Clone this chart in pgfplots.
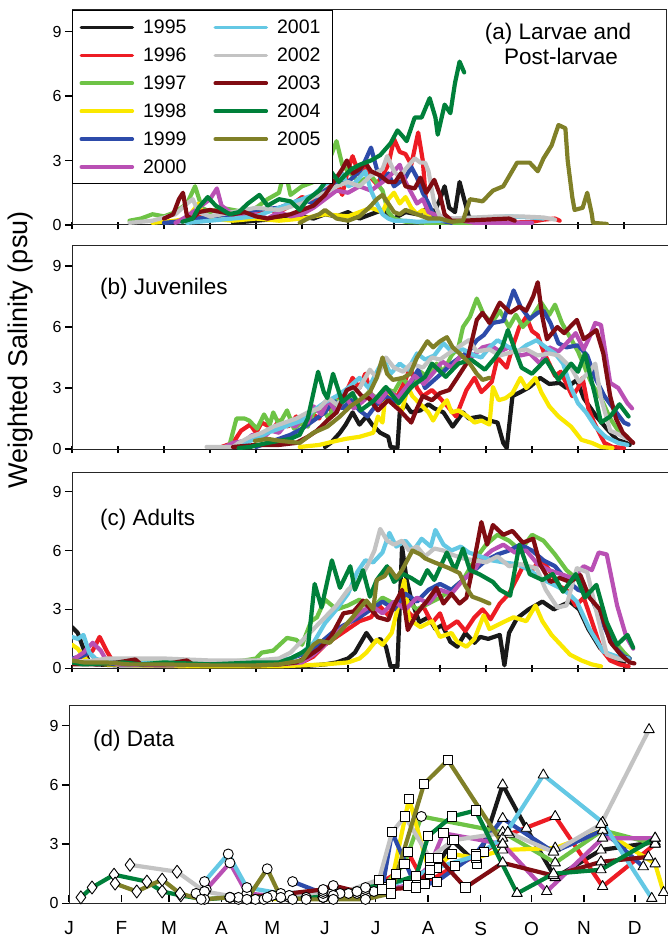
\documentclass[border=0pt]{standalone}
\usepackage{fontspec}
\setmainfont{Liberation Sans}
\usepackage{pgfplots}
\usepackage{pgfplotstable}
\pgfplotsset{compat=1.18}
\definecolor{c95}{RGB}{25,25,25}
\definecolor{c96}{RGB}{237,28,36}
\definecolor{c97}{RGB}{110,195,70}
\definecolor{c98}{RGB}{250,232,0}
\definecolor{c99}{RGB}{45,75,170}
\definecolor{c00}{RGB}{185,80,180}
\definecolor{c01}{RGB}{100,200,228}
\definecolor{c02}{RGB}{195,195,195}
\definecolor{c03}{RGB}{128,12,18}
\definecolor{c04}{RGB}{0,128,58}
\definecolor{c05}{RGB}{128,128,40}
\tikzset{yr/.style={line width=4.2pt, line join=round, line cap=round, mark=none}}
\pgfplotsset{
  every axis plot/.append style={line width=4.2pt, line join=round, line cap=round},
  common/.style={scale only axis, ymin=0, ymax=10, ytick={0,3,6,9},
    tick align=outside, major tick length=7pt,
    xtick style={yshift=3pt}, every tick/.style={black, line width=1.5pt},
    axis line style={black!85, line width=1pt},
    tick label style={font=\fontsize{16}{16}\selectfont},
    /pgf/number format/assume math mode=true,
    ytick pos=left, xtick pos=bottom},
  weeks/.style={common, xmin=0, xtick={0,4,...,48}, xticklabels={}},
  mk/.style={only marks, scatter, scatter src=explicit symbolic,
    scatter/classes={
      a={mark=diamond*, mark size=6.5pt, fill=white, draw=black},
      b={mark=*, mark size=5pt, fill=white, draw=black},
      c={mark=square*, mark size=4.6pt, fill=white, draw=black},
      d={mark=triangle*, mark size=6pt, fill=white, draw=black}},
    mark options={line width=0.9pt}},
}
% ---------- panel d data ----------
\pgfplotstableread{
x y c
100 0.2 b
125 0.3 b
150 0.3 b
170 0.5 b
190 0.7 c
205 1.0 c
217 1.8 c
226 3.2 c
241 2.0 c
256 6.0 d
270 3.8 d
287 1.3 d
314 2.7 d
346 3.1 d
}\dA
\pgfplotstableread{
x y c
95 0.3 b
120 0.4 b
150 0.3 b
175 0.6 b
193 1.5 c
200 2.6 c
210 1.0 c
228 1.9 c
245 2.6 c
260 3.5 d
287 4.4 d
315 0.85 d
346 3.0 d
}\dB
\pgfplotstableread{
x y c
110 0.2 b
140 0.3 b
165 0.5 b
185 0.8 c
198 2.0 c
208 4.4 b
256 3.6 d
287 2.05 d
315 3.7 d
346 3.0 d
}\dC
\pgfplotstableread{
x y c
115 0.2 b
150 0.3 b
175 0.4 b
190 0.9 c
200.7 5.3 c
213 1.5 c
226 2.5 c
240 2.3 c
256 2.7 d
287 2.8 d
315 3.7 d
346 2.0 d
351 0.55 d
}\dD
\pgfplotstableread{
x y c
132 1.1 b
150 0.5 b
170 0.6 b
185 0.8 c
190.7 3.6 c
205 0.8 c
217 1.1 c
240 2.5 c
256 4.3 d
286 2.6 d
315 3.7 d
339 1.85 d
}\dE
\pgfplotstableread{
x y c
75 0.5 b
81 0.7 b
95 2.05 b
105 0.5 b
130 0.3 b
155 0.5 b
180 0.6 b
200 0.9 c
213 1.9 c
221 3.55 c
256 3.0 d
282 0.6 d
315 3.3 d
346 3.3 d
}\dF
\pgfplotstableread{
x y c
80 1.1 b
94 2.5 b
105 0.8 b
125 0.5 b
150 0.6 b
175 0.7 b
190 0.9 c
213 1.7 c
240 2.4 c
256 3.3 d
280 6.5 d
315 4.1 d
344 0.25 d
}\dG
\pgfplotstableread{
x y c
36 1.95 a
63.8 1.6 a
80 0.6 b
100 0.3 b
130 0.4 b
160 0.5 b
183 1.2 c
190.7 3.6 c
198.3 4.4 c
213 2.3 c
227 3.2 c
259 3.6 d
286 2.6 d
314 4.0 d
342.4 8.8 d
}\dH
\pgfplotstableread{
x y c
95 0.3 b
120 0.4 b
150 0.7 b
156 0.9 b
170 0.6 b
185 0.7 c
205 0.8 c
218 2.3 c
234 0.8 c
256 2.05 d
286 1.4 d
314 2.1 d
342 2.35 d
}\dI
\pgfplotstableread{
x y c
7 0.3 a
13.6 0.8 a
26.6 1.45 a
46 1.1 a
55 0.6 a
66 0.4 a
80 0.2 b
95 0.3 b
117 0.3 b
132 0.2 b
156 0.4 b
175 0.8 b
190 1.0 c
205 1.4 c
212 3.4 c
226 4.4 c
240 4.7 c
264.5 0.5 d
286 1.5 d
314 1.7 d
346 3.3 d
}\dJ
\pgfplotstableread{
x y c
27.2 1.0 a
40 0.6 a
55 1.2 a
65.5 0.5 a
78 0.2 b
95 0.3 b
105 0.2 b
117 1.75 b
125 0.3 b
140 0.2 b
156 0.2 b
175 0.2 b
190 0.5 c
209.6 6.05 c
223.7 7.25 c
256 3.0 d
}\dK
\begin{document}
\begin{tikzpicture}
\useasboundingbox (0pt,0pt) rectangle (667pt,-941pt);
% ================= Panel (a) =================
\begin{axis}[weeks, at={(72pt,-225pt)}, anchor=south west, width=594pt, height=215pt, xmax=51.65,
  legend columns=2, legend cell align=left,
  legend image code/.code={\draw[#1, line width=3.6pt, line cap=round] (0pt,0pt) -- (51pt,0pt);},
  legend style={at={(0,1)}, anchor=north west, draw=black, line width=1pt, fill=white,
    font=\fontsize{19.5}{19.5}\selectfont, inner xsep=7pt, inner ysep=3pt, row sep=0pt,
    nodes={inner xsep=5pt, inner ysep=6.4pt},
    /tikz/every odd column/.append style={column sep=4pt},
    /tikz/every even column/.append style={column sep=22pt}}]
\addlegendimage{yr,c95}\addlegendentry{1995}
\addlegendimage{yr,c01}\addlegendentry{2001}
\addlegendimage{yr,c96}\addlegendentry{1996}
\addlegendimage{yr,c02}\addlegendentry{2002}
\addlegendimage{yr,c97}\addlegendentry{1997}
\addlegendimage{yr,c03}\addlegendentry{2003}
\addlegendimage{yr,c98}\addlegendentry{1998}
\addlegendimage{yr,c04}\addlegendentry{2004}
\addlegendimage{yr,c99}\addlegendentry{1999}
\addlegendimage{yr,c05}\addlegendentry{2005}
\addlegendimage{yr,c00}\addlegendentry{2000}
\addplot[yr,c95,forget plot] coordinates {(14,0.1)(16,0.2)(18,0.3)(20,0.4)(21,0.3)(22,0.5)(23,0.4)(24,0.6)(25,0.3)(26,0.5)(27,0.7)(27.5,0.4)(28,0.3)(29,0.6)(30,0.5)(31,0.8)(31.5,0.6)(32,1.2)(32.4,1.8)(32.8,0.8)(33.3,0.6)(33.7,2.0)(34.1,1.2)(34.5,0.4)(35,0.2)(36,0.1)};
\addplot[yr,c96,forget plot] coordinates {(10,0.2)(11,0.4)(12,0.3)(13,0.5)(14,0.4)(15,0.6)(16,0.5)(17,0.7)(18,0.6)(19,0.9)(20,1.3)(21,1.1)(22,1.6)(23,2.0)(23.5,1.4)(24,2.6)(24.4,3.2)(25,2.3)(25.5,2.7)(26,2.2)(26.5,1.9)(27,2.3)(27.5,2.8)(28,4.0)(28.5,3.4)(29,3.3)(29.5,2.8)(30.1,4.3)(30.5,3.0)(30.8,1.0)(31,0.5)(32,0.3)(33,0.2)(34,0.1)(36,0.05)(38,0.1)(40,0.15)(41,0.25)(42,0.3)(42.4,0.2)};
\addplot[yr,c97,forget plot] coordinates {(5,0.2)(6,0.3)(7,0.5)(8,0.4)(9,0.6)(10,1.0)(10.7,1.8)(11.3,0.8)(12,0.6)(13,0.8)(14,0.7)(15,0.6)(16,0.8)(17,1.2)(18,1.5)(18.5,2.6)(19,1.4)(20,1.8)(21,2.0)(22,2.5)(23,3.9)(23.5,2.8)(24,2.5)(25,2.0)(26,2.3)(27,1.6)(27.5,0.6)(28,0.3)(29,0.15)(31,0.1)(33,0.1)(36,0.1)};
\addplot[yr,c98,forget plot] coordinates {(7,0.1)(9,0.2)(10,0.3)(11,1.0)(11.5,0.4)(12,0.3)(14,0.2)(16,0.3)(18,0.2)(20,0.3)(22,0.5)(24,0.4)(25,0.6)(26,0.8)(27,0.6)(27.5,1.2)(28,1.5)(28.5,1.0)(29,1.3)(29.5,0.8)(30,0.5)(30.5,0.7)(31,0.4)(32,0.2)(33,0.1)};
\addplot[yr,c99,forget plot] coordinates {(8,0.1)(10,0.2)(12,0.4)(14,0.5)(16,0.7)(18,0.8)(20,1.2)(21,1.0)(22,1.6)(23,1.9)(24,2.0)(25,2.5)(25.5,3.0)(26,3.6)(26.5,2.6)(27,2.0)(27.5,2.4)(28,1.8)(28.5,2.0)(29,2.2)(29.5,2.7)(30,2.2)(30.5,1.5)(31,1.0)(31.5,0.4)(32,0.2)(33,0.1)};
\addplot[yr,c00,forget plot] coordinates {(9,0.1)(10,0.4)(11,0.8)(12,1.2)(12.6,1.7)(13,0.9)(14,0.5)(15,0.4)(16,0.5)(17,0.3)(18,0.6)(19,0.4)(20,0.5)(21,0.8)(22,1.2)(23,1.6)(24,1.5)(25,1.8)(26,1.6)(27,2.0)(27.5,2.2)(28,2.5)(28.5,2.8)(29,2.0)(29.5,1.5)(30,1.0)(30.5,1.2)(31,0.6)(32,0.4)(33,0.3)(34,0.2)(35,0.1)(38,0.1)(40,0.1)};
\addplot[yr,c01,forget plot] coordinates {(10,0.1)(12,0.2)(14,0.3)(16,0.4)(17,0.6)(18,0.8)(19,1.0)(20,1.2)(21,1.4)(22,1.9)(23,2.1)(23.5,2.4)(24,1.8)(24.5,1.9)(25,2.2)(25.5,2.5)(26,1.6)(26.5,1.0)(27,0.5)(27.5,0.3)(28,0.2)(29,0.2)(30,0.15)(32,0.2)(34,0.3)(36,0.35)(38,0.4)(40,0.35)(41,0.3)};
\addplot[yr,c02,forget plot] coordinates {(5,0.1)(7,0.2)(9,0.5)(10,1.0)(10.5,1.2)(11,0.6)(12,0.4)(14,0.6)(16,0.8)(18,0.7)(20,1.0)(21,1.3)(22,1.5)(23,1.8)(24,2.0)(25,1.8)(26,2.3)(27,2.6)(27.4,3.2)(28,2.5)(28.5,2.2)(29,2.6)(29.8,3.1)(30.3,2.9)(30.7,2.9)(31,2.5)(31.5,1.0)(32,0.4)(33,0.3)(35,0.35)(37,0.4)(39,0.4)(41,0.35)(42,0.25)};
\addplot[yr,c03,forget plot] coordinates {(8,0.3)(8.8,0.5)(9.3,1.2)(9.65,1.5)(10,0.4)(10.5,0.3)(11,0.6)(12,0.7)(13,0.6)(14,0.5)(15,0.6)(16,0.4)(17,0.3)(18,0.4)(19,0.5)(20,0.7)(21,0.9)(22,1.4)(23,2.2)(23.5,2.6)(23.9,3.0)(24.4,2.4)(25,2.6)(25.5,2.9)(26,2.5)(26.8,2.3)(27.5,2.0)(28.1,2.0)(28.6,2.4)(29,1.8)(29.8,1.7)(30.3,2.2)(30.8,1.5)(31.5,2.1)(32,1.4)(32.4,0.5)(33,0.2)(34,0.2)(36,0.25)(38,0.3)(38.5,0.2)};
\addplot[yr,c04,forget plot] coordinates {(9.6,0.15)(10.5,0.3)(11,0.8)(11.8,1.3)(12.5,0.9)(13.7,0.5)(14.5,0.6)(15.3,1.0)(16.3,1.4)(17,0.9)(18,1.2)(19,1.1)(19.8,0.7)(20.5,1.2)(21.5,1.6)(22,2.0)(22.5,2.5)(23.2,2.0)(23.7,2.3)(24.3,2.6)(25,2.8)(26,3.0)(26.8,3.25)(27.7,3.8)(28.3,4.4)(28.8,4.1)(29.1,3.9)(29.8,5.0)(30.4,5.0)(31.1,5.9)(31.6,5.0)(31.8,4.2)(32.4,5.6)(32.9,5.2)(33.3,6.6)(33.7,7.6)(34.1,7.1)};
\addplot[yr,c05,forget plot] coordinates {(19.8,0.1)(20.5,0.3)(21.5,0.5)(22,0.7)(22.5,0.5)(23,0.3)(24,0.2)(25,0.4)(26,0.9)(26.5,1.2)(27,1.4)(27.5,1.0)(28,0.6)(28.5,0.5)(29,0.7)(30,0.5)(31,0.3)(32,0.3)(33,0.15)(34,0.2)(34.6,1.2)(35.7,1.1)(36.6,1.6)(37.5,1.8)(38.7,2.9)(39.8,2.9)(40.5,2.5)(41,3.1)(41.7,3.7)(42.3,4.65)(42.9,4.5)(43.1,3.0)(43.5,1.3)(43.7,0.7)(44.4,0.8)(44.8,1.5)(45.2,0.5)(45.3,0.1)(46.5,0.05)};
\end{axis}
% ================= Panel (b) =================
\begin{axis}[weeks, at={(72pt,-449pt)}, anchor=south west, width=598pt, height=203.3pt, xmax=52]
\addplot[yr,c95] coordinates {(22,0.1)(22.5,0.3)(23.3,0.8)(23.8,1.2)(24.4,1.8)(25,1.2)(25.6,1.6)(26.1,1.2)(26.8,0.8)(27.5,0.6)(27.7,0.1)(28.3,0.05)(28.5,1.8)(29,2.2)(29.5,1.8)(30.3,1.9)(31,2.2)(31.5,2.0)(32.3,1.8)(33.1,1.1)(34,1.8)(34.5,1.5)(35.5,1.6)(36.3,1.4)(37,1.3)(37.5,0.3)(37.8,0.05)(38.3,2.6)(39,2.8)(39.8,3.05)(40.7,3.5)(41.5,3.2)(42.4,3.25)(43,3.0)(43.9,3.4)(44.5,2.5)(45.6,1.6)(46.5,1.0)(47.4,0.45)(48.2,0.3)(48.5,0.2)};
\addplot[yr,c96] coordinates {(13,0.1)(14,0.3)(14.7,0.9)(15.5,1.2)(16,0.8)(16.5,1.3)(17.5,1.0)(18,1.4)(18.8,1.1)(19.5,1.6)(20,1.2)(20.7,1.8)(21.5,1.5)(22,2.3)(22.5,1.9)(23.3,2.6)(24,3.0)(24.4,3.5)(25,3.0)(25.5,3.7)(26.1,2.5)(26.7,2.2)(27.3,2.8)(28.3,2.6)(29,3.4)(29.4,4.0)(30,3.0)(30.5,2.6)(31.3,2.9)(32,2.5)(32.5,2.2)(33.4,1.6)(34.3,2.9)(35,3.5)(35.6,2.8)(36.5,3.3)(37,4.5)(37.8,4.0)(38.3,5.0)(38.9,6.0)(39.5,6.5)(40,5.8)(40.5,5.6)(41,4.8)(42,3.6)(42.5,3.8)(43,3.2)(43.5,2.6)(44,3.0)(44.4,3.5)(44.9,2.0)(45.4,1.3)(46.3,0.3)(47,0.1)(48,0.05)};
\addplot[yr,c97] coordinates {(13.7,0.2)(14.3,1.5)(15,1.5)(15.4,1.4)(16.1,1.0)(16.7,1.7)(17.2,1.2)(17.5,1.8)(18,1.2)(18.7,1.9)(19.3,1.0)(20,1.3)(20.5,1.1)(21,1.8)(21.7,2.1)(22.3,1.5)(23,2.4)(23.7,2.0)(24.4,2.7)(25,2.2)(25.8,2.8)(26.5,2.5)(27.2,3.0)(28,2.8)(28.7,3.5)(29.5,3.0)(30.3,3.8)(31,3.5)(31.7,4.2)(32.3,3.8)(33,4.6)(33.6,5.0)(34,6.0)(34.6,6.5)(35.2,7.4)(35.8,6.6)(36.5,6.2)(37.2,6.8)(38,6.0)(38.6,6.6)(39.2,6.0)(40,6.5)(40.8,7.2)(41.5,6.6)(42,7.1)(42.6,6.2)(43.3,5.5)(44,4.8)(44.6,4.0)(45.2,3.2)(46,2.5)(46.8,1.5)(47.5,0.9)(48.3,0.6)};
\addplot[yr,c98] coordinates {(19.8,0.1)(21.5,0.2)(22.6,0.35)(23.8,0.5)(25,0.6)(26.2,0.8)(26.6,1.6)(27,1.3)(27.3,2.9)(28,2.2)(28.7,1.9)(29.2,3.05)(29.6,2.6)(30.3,2.2)(31,1.8)(31.4,1.4)(32,2.0)(32.6,2.4)(33,1.8)(33.6,1.9)(34.4,1.6)(35,1.3)(35.6,1.4)(36.3,1.2)(36.6,3.05)(37.1,2.4)(37.7,2.5)(38.3,2.75)(39,3.5)(39.5,3.0)(40.3,3.5)(40.8,2.8)(41.5,2.1)(42.3,1.6)(43.4,1.1)(44.3,0.45)(45.2,0.3)(46,0.1)(47,0.05)};
\addplot[yr,c99] coordinates {(16,0.1)(17,0.3)(18,0.5)(19,0.7)(20,1.0)(21,1.4)(22,1.8)(22.7,2.4)(23.5,2.0)(24.3,2.4)(25,1.9)(25.7,1.6)(26.5,2.2)(27.3,2.6)(28,2.3)(29,3.0)(29.5,3.3)(30.1,3.9)(30.7,3.0)(31.5,3.4)(32.3,3.8)(33,4.2)(33.7,4.5)(34.5,4.8)(35.2,5.35)(35.8,5.6)(36.6,6.2)(37.5,6.3)(38.4,7.8)(39,7.0)(39.8,6.4)(40.5,6.7)(41,6.8)(41.6,6.2)(42.3,5.2)(43,5.0)(44,5.1)(44.8,4.6)(45.5,3.5)(46.3,2.6)(47.2,1.9)(48,1.3)(48.4,1.2)};
\addplot[yr,c00] coordinates {(13.3,0.1)(14,0.3)(15,0.4)(15.7,0.7)(16.5,0.5)(17.3,0.9)(18,0.8)(18.7,1.3)(19.4,1.1)(20,1.5)(20.5,1.3)(21,2.1)(21.7,1.7)(22.3,2.4)(23,1.8)(23.7,2.6)(24.5,2.0)(25.2,2.3)(26,2.7)(26.7,2.3)(27.5,2.9)(28.3,2.5)(29,3.0)(29.8,3.6)(30.6,3.2)(31.5,3.8)(32.2,4.3)(33,4.0)(33.8,4.6)(34.5,4.4)(35.7,5.0)(36.4,5.1)(37.2,4.8)(38,5.0)(39,4.6)(39.8,4.7)(40.7,4.2)(41.5,5.0)(42.3,4.8)(43,5.2)(43.8,5.7)(44.5,4.9)(45,5.5)(45.5,6.2)(46,6.1)(46.8,3.25)(47.5,3.0)(48.3,2.25)(48.7,2.0)};
\addplot[yr,c01] coordinates {(14,0.1)(15,0.3)(16,0.5)(17,0.8)(18,1.0)(19,1.2)(20,1.4)(21,1.9)(22,2.3)(23,2.6)(24,3.0)(25,3.5)(25.8,3.0)(26.5,3.8)(27.1,4.4)(27.7,3.7)(28.5,4.2)(29.2,3.9)(30,4.7)(30.7,4.4)(31.5,4.6)(32.3,5.2)(33,4.8)(34,4.9)(35,4.6)(35.6,4.5)(36.3,5.0)(37,5.35)(38,5.0)(38.8,4.8)(39.5,5.1)(40.4,5.35)(41.2,5.0)(42,4.7)(42.7,4.2)(43.4,3.0)(44,2.25)(44.7,1.8)(45.5,1.1)(46.4,0.6)(47.5,0.3)(48.3,0.2)};
\addplot[yr,c02] coordinates {(11.7,0.1)(14,0.1)(14.5,0.3)(15.5,0.6)(16.5,0.8)(17.5,1.1)(18.5,1.3)(19.5,1.5)(20.5,1.8)(21.5,2.0)(22.3,2.5)(23,2.2)(24,2.6)(25,3.0)(25.9,3.9)(26.5,3.5)(27.3,4.5)(28,4.0)(28.8,3.8)(29.5,4.2)(30.5,4.0)(31.3,4.5)(32,4.4)(33,4.8)(34.5,5.35)(35.2,4.8)(36.3,4.9)(37.2,4.6)(38.5,4.8)(39.5,4.9)(40.5,4.6)(41.5,4.7)(42.3,4.6)(43.4,4.0)(44.1,3.3)(45,3.8)(45.5,4.2)(46,2.5)(46.8,0.9)(47.6,0.7)(48.3,0.5)};
\addplot[yr,c03] coordinates {(14,0.1)(16,0.2)(18,0.2)(19.5,0.3)(20.5,0.6)(21.3,0.9)(22.2,1.4)(23,1.8)(23.9,2.9)(24.5,3.05)(25.2,2.6)(25.8,2.5)(26.6,1.9)(27.5,2.4)(28.5,1.9)(29.5,1.3)(30,2.0)(30.5,2.6)(31.3,2.4)(32,2.75)(32.8,2.9)(33.5,3.5)(34.3,4.2)(35.2,6.35)(35.7,6.7)(36.3,6.2)(37.2,7.2)(38.1,6.7)(38.9,7.0)(39.5,6.8)(40.1,7.5)(40.5,8.2)(40.9,6.5)(41.3,5.4)(42.2,6.0)(42.8,5.7)(43.3,6.0)(43.9,6.35)(44.5,5.4)(45,5.6)(45.6,5.85)(46.2,4.7)(46.8,2.6)(47.3,1.5)(47.9,0.8)(48.8,0.3)};
\addplot[yr,c04] coordinates {(14.5,0.05)(15.5,0.1)(16.2,0.2)(17,0.3)(18,0.4)(19,0.5)(19.8,0.7)(20.5,1.5)(21.4,3.8)(21.9,2.8)(22.2,2.5)(22.7,3.7)(23.5,2.3)(24.4,2.75)(25.1,1.9)(26.3,2.4)(27.3,3.05)(28.4,2.25)(29.5,3.05)(30.7,3.55)(31.3,4.2)(32.5,3.55)(33.6,4.2)(34.7,4.4)(35.9,3.9)(36.8,4.5)(37.4,5.0)(37.9,5.85)(38.5,4.9)(39.1,4.0)(40,3.7)(41.2,4.4)(42.3,3.4)(43.4,4.2)(44,3.8)(44.6,4.7)(45.5,2.6)(46,1.3)(46.8,1.6)(47.6,2.2)(48.4,1.6)};
\addplot[yr,c05] coordinates {(15.9,0.4)(17,0.5)(18.1,0.4)(19.8,0.3)(21,0.8)(22.2,1.1)(23.3,1.6)(24.2,2.1)(25,2.4)(25.9,2.8)(26.5,3.5)(27,4.5)(27.4,3.7)(27.9,3.4)(28.8,3.5)(29.4,3.7)(30,4.5)(30.9,5.3)(31.4,5.0)(32,5.3)(32.6,5.5)(33.1,5.0)(33.7,4.7)(34.6,4.2)(35.2,3.7)(35.7,3.4)(36.3,3.5)};
\end{axis}
% ================= Panel (c) =================
\begin{axis}[weeks, at={(72pt,-668.3pt)}, anchor=south west, width=598pt, height=196.3pt, xmax=52]
\addplot[yr,c95] coordinates {(0,2.1)(0.5,1.8)(1,1.0)(1.5,0.3)(2,0.2)(4,0.15)(8,0.15)(12,0.1)(16,0.1)(20,0.1)(22,0.2)(23,0.3)(24,0.5)(24.6,0.8)(25.6,1.8)(26.2,1.3)(26.8,1.5)(27.3,1.1)(27.7,0.1)(28.3,0.1)(28.7,6.2)(29.1,4.5)(29.5,3.5)(30.2,2.35)(31,2.6)(31.6,2.0)(32.2,2.2)(32.9,1.35)(33.5,1.1)(34.2,1.8)(35,1.3)(35.5,1.6)(36.2,1.5)(37.2,1.7)(37.6,0.15)(38,1.8)(38.7,2.55)(39.7,3.0)(40.9,3.4)(41.9,3.0)(43.3,3.4)(44.1,3.0)(44.9,2.0)(45.9,1.05)(46.9,0.5)(48,0.3)};
\addplot[yr,c96] coordinates {(0,0.5)(1,0.6)(1.8,0.9)(2.4,1.6)(3,0.9)(3.5,0.4)(4.5,0.3)(6,0.2)(10,0.2)(14,0.2)(18,0.2)(20,0.3)(21,0.6)(22,1.2)(23,1.6)(24,2.0)(25,2.4)(26,2.6)(26.7,3.2)(27.5,2.7)(28.3,3.5)(29,3.0)(29.7,2.6)(30.5,3.2)(31.3,2.3)(32,2.8)(32.5,2.0)(33.5,2.4)(34.2,1.9)(35,2.6)(35.7,3.0)(36.4,2.5)(37.2,3.3)(38,3.8)(38.7,4.6)(39.3,5.3)(40,5.0)(40.8,5.6)(41.5,5.0)(42.3,4.2)(43,4.0)(43.8,3.2)(44.5,3.6)(45.2,2.4)(46,1.0)(46.8,0.4)(47.6,0.2)(48.4,0.1)};
\addplot[yr,c97] coordinates {(0,0.3)(2,0.3)(4,0.4)(6,0.3)(10,0.3)(12,0.35)(14,0.35)(15,0.4)(16,0.5)(16.5,0.8)(17.5,0.9)(18.7,1.55)(19.5,1.45)(20,1.2)(20.8,2.4)(21.3,2.6)(22,3.5)(23,3.0)(24,3.2)(25,3.5)(26,3.0)(27,3.6)(28,3.3)(29,3.5)(30,3.0)(31,3.3)(32,3.6)(33,4.0)(34,4.5)(35,5.5)(36,6.3)(37,6.8)(38,6.5)(39,6.0)(40,6.8)(41,6.5)(42,5.8)(43,5.0)(44,4.5)(45,3.8)(46,2.5)(47,1.5)(48,0.8)(48.5,0.5)};
\addplot[yr,c98] coordinates {(0,1.2)(0.5,1.0)(1,0.6)(1.5,0.3)(3,0.2)(6,0.15)(10,0.1)(14,0.1)(18,0.1)(20,0.15)(22,0.2)(24,0.3)(25,0.5)(25.6,0.8)(26.5,1.45)(27,1.2)(27.8,1.8)(28.9,4.5)(29.3,2.5)(30.3,2.1)(31.3,2.4)(32,1.6)(33,1.8)(33.5,1.35)(34.3,1.1)(35,1.5)(35.8,2.7)(36.3,2.0)(37.5,2.35)(38.4,2.6)(39.5,2.4)(40.3,3.2)(40.9,2.4)(41.7,1.7)(42.5,1.2)(43.3,0.7)(44.3,0.4)(45.2,0.2)(46,0.1)};
\addplot[yr,c99] coordinates {(0,0.5)(0.8,0.6)(1.5,0.8)(2,0.5)(2.5,0.3)(4,0.2)(8,0.15)(12,0.2)(16,0.2)(18,0.3)(19,0.5)(20,0.7)(21,1.0)(22,1.5)(23,2.0)(24,2.3)(25,2.6)(26,3.0)(27,3.4)(28,3.0)(29,3.8)(30,3.4)(31,4.0)(32,4.3)(33,4.0)(34,4.5)(35,5.0)(36,5.5)(37,5.8)(38,6.0)(39,6.3)(40,6.0)(41,5.5)(42,5.2)(43,4.5)(44,4.0)(45,3.8)(46,2.5)(47,1.2)(48,0.6)(48.5,0.5)};
\addplot[yr,c00] coordinates {(0,0.4)(1,0.8)(1.8,1.3)(2.5,0.9)(3,0.4)(4,0.2)(8,0.15)(12,0.2)(16,0.2)(18,0.2)(20,0.3)(21,0.7)(22,1.2)(23,1.8)(24,2.3)(25,2.8)(26,3.2)(27,2.8)(28,3.4)(29,3.0)(30,3.6)(31,3.3)(32,4.0)(33,3.8)(34,4.5)(35,5.0)(35.5,5.5)(36.5,6.0)(37.5,6.3)(38.5,5.9)(39.5,6.0)(40.5,5.3)(41.5,5.0)(42.5,4.8)(43.5,4.6)(44.5,5.2)(45.2,5.0)(45.8,5.9)(46.5,5.8)(47.4,3.2)(48.2,1.6)(48.8,1.0)};
\addplot[yr,c01] coordinates {(0,1.6)(0.5,1.5)(1,1.7)(1.5,0.8)(2,0.5)(2.5,0.4)(4,0.3)(8,0.25)(12,0.2)(16,0.25)(17,0.3)(19,0.5)(20,0.8)(21,1.3)(22,2.3)(23,3.0)(24,3.8)(24.8,4.9)(25.5,5.5)(26.2,5.4)(27,5.9)(27.6,6.9)(28.2,6.2)(29,6.5)(29.7,6.0)(30.4,6.6)(31.2,6.2)(31.6,7.05)(32.3,6.3)(33,6.0)(33.8,6.2)(34.5,5.9)(35.5,5.7)(36.5,5.5)(37.5,5.4)(38.7,5.3)(39.8,5.0)(40.7,4.6)(42.4,4.1)(43.2,3.8)(43.9,3.4)(45,2.0)(46.2,0.85)(47.4,0.6)(48.4,0.5)};
\addplot[yr,c02] coordinates {(0,0.3)(2,0.4)(3,0.5)(5,0.5)(8,0.5)(10,0.45)(12,0.4)(14,0.4)(16,0.4)(18,0.5)(19,0.8)(20,1.4)(21,2.0)(22,2.6)(23,3.2)(24,4.0)(25,4.5)(25.8,5.35)(26.3,6.0)(26.8,7.1)(27.4,6.5)(28,6.3)(28.7,6.5)(29.3,6.0)(30,6.2)(30.7,5.7)(31.5,6.1)(32.3,6.0)(33,5.8)(34,5.6)(35,5.5)(36,5.4)(37,5.7)(38,5.2)(39,5.3)(40.4,5.1)(41.2,4.0)(42.2,3.1)(43,3.2)(43.9,5.1)(44.8,4.9)(45.6,2.9)(46.5,0.7)(47.4,0.5)(48.3,0.4)};
\addplot[yr,c03] coordinates {(0,0.2)(2,0.2)(4,0.3)(5.5,0.45)(6,0.2)(8,0.2)(10,0.4)(10.5,0.2)(12,0.2)(14,0.2)(16,0.15)(18,0.2)(19.5,0.3)(20.5,0.6)(21.5,1.0)(22.5,1.6)(23.6,2.8)(24.5,2.9)(25.3,3.45)(26,3.0)(26.6,2.6)(27.5,2.45)(28,3.2)(28.7,4.0)(29.2,1.95)(30,2.8)(30.9,3.45)(31.7,4.1)(32.3,3.3)(33,3.8)(33.7,3.3)(34.3,3.6)(34.8,5.0)(35.2,6.2)(35.6,7.45)(36.1,6.3)(36.6,7.3)(37.5,6.8)(38.3,7.0)(39.2,6.4)(40.1,6.6)(40.7,5.3)(41.6,4.4)(42.4,4.6)(43.3,4.4)(44.2,4.75)(45,3.6)(45.9,3.0)(46.8,1.35)(47.7,0.7)(48.5,0.3)(48.9,0.25)};
\addplot[yr,c04] coordinates {(0,0.3)(1,0.2)(3,0.25)(4.5,0.3)(6,0.2)(8,0.3)(12,0.2)(16,0.3)(18,0.3)(19,0.5)(20,0.8)(20.5,1.0)(21.1,4.3)(21.7,3.1)(22.6,5.5)(23.3,4.1)(24.2,5.2)(24.6,4.0)(25.3,5.0)(25.9,3.65)(26.5,4.5)(27.4,5.2)(28,4.4)(28.8,4.8)(29.5,4.6)(30.3,4.3)(30.9,5.0)(31.5,4.5)(32.6,5.9)(33.3,5.0)(34,6.1)(34.6,5.0)(35.4,4.8)(36.6,4.4)(37.2,4.0)(38.1,3.7)(38.9,6.3)(39.8,4.8)(40.9,4.5)(41.8,4.8)(42.7,3.9)(43.8,4.8)(44.6,3.6)(45.6,4.25)(46.5,2.35)(47.4,1.2)(48.3,1.7)(48.8,1.05)};
\addplot[yr,c05] coordinates {(0,0.4)(1,0.3)(3,0.3)(5,0.2)(8,0.2)(12,0.15)(16,0.15)(18,0.2)(19,0.3)(20,0.4)(21,1.2)(21.5,1.4)(22.4,1.3)(23.2,1.8)(24.4,2.6)(25.6,3.45)(26.2,3.0)(26.5,4.5)(27.2,4.7)(27.6,5.1)(28.2,4.6)(28.7,5.0)(29.6,6.0)(30.3,5.8)(30.7,5.6)(31.5,5.4)(32.8,5.1)(33.7,4.85)(34.2,4.2)(34.8,3.65)(35.5,3.5)(36.3,3.3)};
\end{axis}
% ================= Panel (d) =================
\begin{axis}[common, at={(69pt,-903.3pt)}, anchor=south west, width=596.3pt, height=197.4pt,
  xmin=0, xmax=352, xtick={0,31,59,90,120,151,181,212,243,273,304,334},
  xticklabels={J,F,M,A,M,J,J,A,S,O,N,D}, xtick style={yshift=5pt},
  xticklabel style={font=\fontsize{19}{19}\selectfont, yshift=-8pt}]
\addplot[yr,c95] table[x=x,y=y] {\dA};
\addplot[yr,c96] table[x=x,y=y] {\dB};
\addplot[yr,c97] table[x=x,y=y] {\dC};
\addplot[yr,c98] table[x=x,y=y] {\dD};
\addplot[yr,c99] table[x=x,y=y] {\dE};
\addplot[yr,c00] table[x=x,y=y] {\dF};
\addplot[yr,c01] table[x=x,y=y] {\dG};
\addplot[yr,c02] table[x=x,y=y] {\dH};
\addplot[yr,c03] table[x=x,y=y] {\dI};
\addplot[yr,c04] table[x=x,y=y] {\dJ};
\addplot[yr,c05] table[x=x,y=y] {\dK};
\addplot[mk] table[x=x,y=y,meta=c] {\dA};
\addplot[mk] table[x=x,y=y,meta=c] {\dB};
\addplot[mk] table[x=x,y=y,meta=c] {\dC};
\addplot[mk] table[x=x,y=y,meta=c] {\dD};
\addplot[mk] table[x=x,y=y,meta=c] {\dE};
\addplot[mk] table[x=x,y=y,meta=c] {\dF};
\addplot[mk] table[x=x,y=y,meta=c] {\dG};
\addplot[mk] table[x=x,y=y,meta=c] {\dH};
\addplot[mk] table[x=x,y=y,meta=c] {\dI};
\addplot[mk] table[x=x,y=y,meta=c] {\dJ};
\addplot[mk] table[x=x,y=y,meta=c] {\dK};
\end{axis}
% ---------- texts ----------
\node[anchor=base, inner sep=0pt, font=\fontsize{22.5}{22.5}\selectfont] at (558pt,-40pt) {(a) Larvae and};
\node[anchor=base, inner sep=0pt, font=\fontsize{22.5}{22.5}\selectfont] at (561pt,-65pt) {Post-larvae};
\node[anchor=base west, inner sep=0pt, font=\fontsize{22.5}{22.5}\selectfont] at (100pt,-294pt) {(b) Juveniles};
\node[anchor=base west, inner sep=0pt, font=\fontsize{22.5}{22.5}\selectfont] at (100pt,-525.7pt) {(c) Adults};
\node[anchor=base west, inner sep=0pt, font=\fontsize{22.5}{22.5}\selectfont] at (93pt,-746.7pt) {(d) Data};
\node[rotate=90, inner sep=0pt, font=\fontsize{27}{27}\selectfont] at (21pt,-350pt) {Weighted Salinity (psu)};
\end{tikzpicture}
\end{document}
